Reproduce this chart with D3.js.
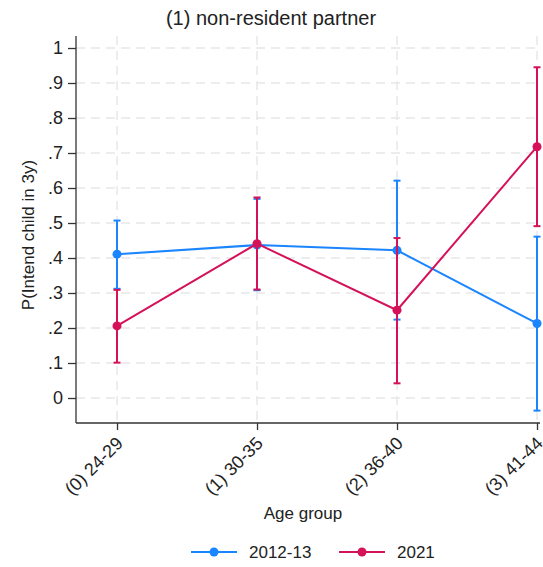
<!DOCTYPE html>
<html>
<head>
<meta charset="utf-8">
<script src="https://cdn.jsdelivr.net/npm/d3@7"></script>
<style>
  html, body { margin: 0; padding: 0; background: #fff; }
  svg { display: block; font-family: "Liberation Sans", Arial, sans-serif; }
</style>
</head>
<body>
<svg id="chart" width="543" height="567"></svg>
<script>
// Age groups on the x axis
const categories = ["(0) 24-29", "(1) 30-35", "(2) 36-40", "(3) 41-44"];
const seriesNames = ["2012-13", "2021"];
const seriesColors = ["#1a85ff", "#d41159"];

// Predicted probability with 95% confidence bounds, 2012-13 wave
const est2012 = [0.411, 0.437, 0.422, 0.213];
const lo2012  = [0.312, 0.308, 0.224, -0.036];
const hi2012  = [0.507, 0.569, 0.621, 0.461];

// Same quantities, 2021 wave
const est2021 = [0.206, 0.441, 0.251, 0.718];
const lo2021  = [0.101, 0.310, 0.042, 0.491];
const hi2021  = [0.309, 0.573, 0.457, 0.945];

const yTicks = [0, 0.1, 0.2, 0.3, 0.4, 0.5, 0.6, 0.7, 0.8, 0.9, 1];
const yTickLabels = ["0", ".1", ".2", ".3", ".4", ".5", ".6", ".7", ".8", ".9", "1"];

const series = [
  { name: seriesNames[0], color: seriesColors[0], est: est2012, lo: lo2012, hi: hi2012 },
  { name: seriesNames[1], color: seriesColors[1], est: est2021, lo: lo2021, hi: hi2021 }
];

const svg = d3.select("#chart");
const plotL = 76, plotR = 540, plotT = 36, plotB = 423;

const x = d3.scaleLinear().domain([-0.293, 3.0214]).range([plotL, plotR]);
const y = d3.scaleLinear().domain([-0.0714, 1.0343]).range([plotB, plotT]);

svg.append("clipPath").attr("id", "plotclip")
  .append("rect").attr("x", plotL).attr("y", plotT - 2)
  .attr("width", plotR - plotL + 3).attr("height", plotB - plotT + 4);

// Dashed grid
const grid = svg.append("g").attr("stroke", "#e8e8e8").attr("stroke-width", 1.5)
  .attr("stroke-dasharray", "9,6");
grid.selectAll("line.h").data(yTicks).join("line").attr("class", "h")
  .attr("x1", plotL).attr("x2", plotR)
  .attr("y1", d => y(d)).attr("y2", d => y(d));
grid.selectAll("line.v").data(categories).join("line").attr("class", "v")
  .attr("x1", (d, i) => x(i)).attr("x2", (d, i) => x(i))
  .attr("y1", plotT).attr("y2", plotB);

// Axes
const yAxis = d3.axisLeft(y).tickValues(yTicks)
  .tickFormat((d, i) => yTickLabels[i]).tickSize(8).tickPadding(5);
const gy = svg.append("g").attr("transform", `translate(${plotL},0)`).call(yAxis);
gy.select(".domain").attr("d", `M0,${plotT}V${plotB}`).attr("stroke", "#333").attr("stroke-width", 1.3);
gy.selectAll(".tick line").attr("stroke", "#333").attr("stroke-width", 1.3);
gy.selectAll(".tick text").attr("font-size", 18).attr("fill", "#222")
  .attr("font-family", "Liberation Sans, Arial, sans-serif");

const xAxis = d3.axisBottom(x).tickValues(d3.range(categories.length))
  .tickFormat(i => categories[i]).tickSize(7).tickSizeOuter(0);
const gx = svg.append("g").attr("transform", `translate(0,${plotB})`).call(xAxis);
gx.select(".domain").attr("d", `M${plotL},0H${plotR}`).attr("stroke", "#333").attr("stroke-width", 1.3);
gx.selectAll(".tick line").attr("stroke", "#333").attr("stroke-width", 1.3);
gx.selectAll(".tick text").attr("font-size", 18).attr("fill", "#222")
  .attr("font-family", "Liberation Sans, Arial, sans-serif")
  .attr("text-anchor", "end")
  .attr("dy", "0.35em")
  .attr("transform", "translate(2,17) rotate(-45)")
  .attr("x", 0).attr("y", 0);

// Series: connecting lines, CI whiskers with caps, markers
const plot = svg.append("g").attr("clip-path", "url(#plotclip)");
const line = d3.line().x((d, i) => x(i)).y(d => y(d));
const capW = 3.5;

series.forEach(s => {
  const g = plot.append("g");
  g.append("path").datum(s.est).attr("d", line)
    .attr("fill", "none").attr("stroke", s.color).attr("stroke-width", 2);
  const idx = d3.range(s.est.length);
  g.selectAll("line.ci").data(idx).join("line").attr("class", "ci")
    .attr("x1", i => x(i)).attr("x2", i => x(i))
    .attr("y1", i => y(s.lo[i])).attr("y2", i => y(s.hi[i]))
    .attr("stroke", s.color).attr("stroke-width", 2);
  ["lo", "hi"].forEach(k => {
    g.selectAll("line.cap" + k).data(idx).join("line").attr("class", "cap" + k)
      .attr("x1", i => x(i) - capW).attr("x2", i => x(i) + capW)
      .attr("y1", i => y(s[k][i])).attr("y2", i => y(s[k][i]))
      .attr("stroke", s.color).attr("stroke-width", 2);
  });
  g.selectAll("circle").data(idx).join("circle")
    .attr("cx", i => x(i)).attr("cy", i => y(s.est[i])).attr("r", 4.5)
    .attr("fill", s.color);
});

// Titles
svg.append("text").attr("x", 271).attr("y", 25).attr("text-anchor", "middle")
  .attr("font-size", 20).attr("fill", "#222").text("(1) non-resident partner");
svg.append("text").attr("transform", "translate(34,235) rotate(-90)")
  .attr("text-anchor", "middle").attr("font-size", 17).attr("fill", "#222")
  .text("P(Intend child in 3y)");
svg.append("text").attr("x", 303).attr("y", 519).attr("text-anchor", "middle")
  .attr("font-size", 17).attr("fill", "#222").text("Age group");

// Legend
const legendX = [191, 339];
const leg = svg.append("g");
series.forEach((s, i) => {
  const lx = legendX[i];
  leg.append("line").attr("x1", lx).attr("x2", lx + 46).attr("y1", 552).attr("y2", 552)
    .attr("stroke", s.color).attr("stroke-width", 2);
  leg.append("circle").attr("cx", lx + 23).attr("cy", 552).attr("r", 4.5).attr("fill", s.color);
  leg.append("text").attr("x", lx + 58).attr("y", 558).attr("font-size", 17)
    .attr("fill", "#222").text(s.name);
});
</script>
</body>
</html>
